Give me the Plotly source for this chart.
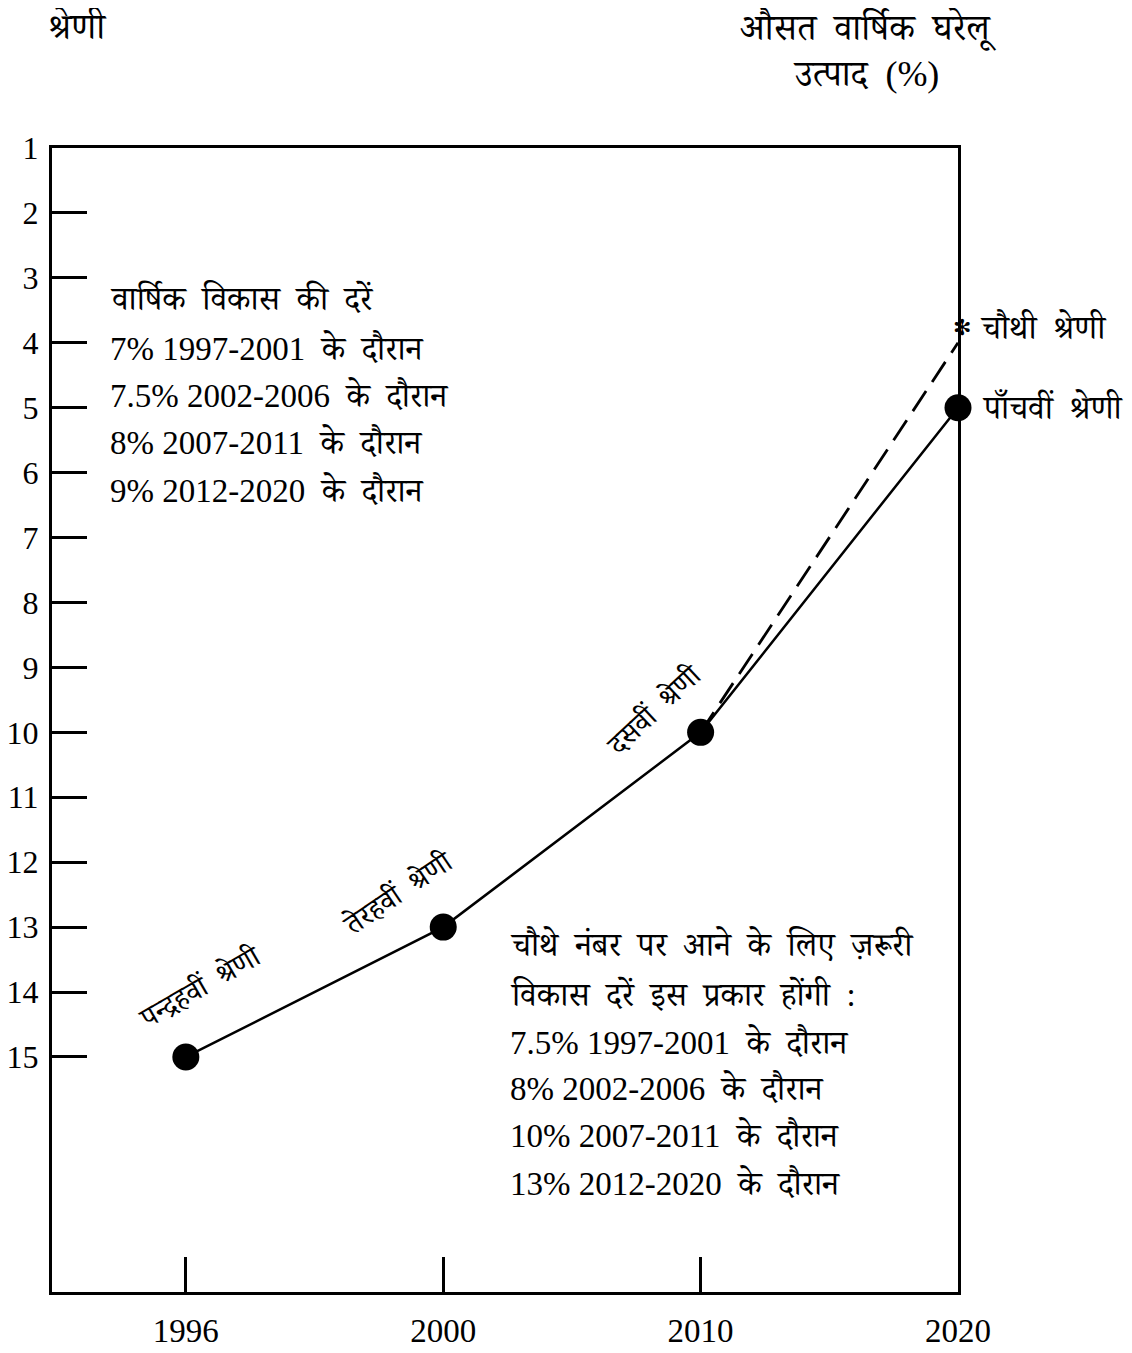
import plotly.graph_objects as go

# ---- data ----
years = ["1996", "2000", "2010", "2020"]
x_pos = [0, 1, 2, 3]
ranks_actual = [15, 13, 10, 5]
proj_x = [2, 3]
ranks_needed = [10, 4]
y_ticks = list(range(1, 16))

point_labels = ["पन्द्रहवीं  श्रेणी", "तेरहवीं  श्रेणी", "दसवीं  श्रेणी"]
left_lines = [
    "वार्षिक  विकास  की  दरें",
    "7% 1997-2001  के  दौरान",
    "7.5% 2002-2006  के  दौरान",
    "8% 2007-2011  के  दौरान",
    "9% 2012-2020  के  दौरान",
]
right_lines = [
    "चौथे  नंबर  पर  आने  के  लिए  ज़रूरी",
    "विकास  दरें  इस  प्रकार  होंगी  :",
    "7.5% 1997-2001  के  दौरान",
    "8% 2002-2006  के  दौरान",
    "10% 2007-2011  के  दौरान",
    "13% 2012-2020  के  दौरान",
]

OFF = 8  # page body margin
PW, PH = 1132, 1353  # window
W, H = PW - OFF, PH - OFF
L, R, T, B = 52, 958, 148, 1292  # plot frame in page pixels
FONT = "Liberation Serif, 'Times New Roman', 'Noto Serif Devanagari', 'Noto Sans Devanagari', serif"


def px(x):
    return (x - L) / (R - L)


def py(y):
    return (B - y) / (B - T)


fig = go.Figure()
fig.add_trace(go.Scatter(
    x=proj_x, y=ranks_needed, mode="lines",
    line=dict(color="black", width=2.8, dash="24px,11px"),
    cliponaxis=False, hoverinfo="skip", showlegend=False,
))
fig.add_trace(go.Scatter(
    x=x_pos, y=ranks_actual, mode="lines+markers",
    line=dict(color="black", width=2.5),
    marker=dict(color="black", size=27),
    cliponaxis=False, showlegend=False,
))

ann = []


def add(text, x, y, size=34, xanchor="center", angle=0):
    ann.append(dict(text=text, x=px(x), y=py(y), xref="paper", yref="paper",
                    showarrow=False, xanchor=xanchor, yanchor="middle",
                    textangle=angle, font=dict(family=FONT, size=size, color="black")))


add("श्रेणी", 77, 26, size=36)
add("औसत  वार्षिक  घरेलू", 868, 28, size=36)
add("उत्पाद  (%)", 866, 74, size=36)

for t, yy in zip(left_lines, [298, 348, 395, 442, 490]):
    add(t, 108, yy, size=33, xanchor="left")
for t, yy in zip(right_lines, [944, 994, 1042, 1088, 1135, 1183]):
    add(t, 508, yy, size=33, xanchor="left")

add(point_labels[0], 200, 987, size=29, angle=-30)
add(point_labels[1], 398, 893, size=29, angle=-34)
add(point_labels[2], 654, 710, size=29, angle=-43)

add("✻", 962, 328, size=22)
add("चौथी  श्रेणी", 978, 328, size=33, xanchor="left")
add("पाँचवीं  श्रेणी", 980, 407, size=33, xanchor="left")

fig.update_layout(
    width=W, height=H,
    margin=dict(l=L - OFF, r=W + OFF - R, t=T - OFF, b=H + OFF - B, autoexpand=False),
    paper_bgcolor="white", plot_bgcolor="white",
    annotations=ann,
    font=dict(family=FONT, color="black"),
)
fig.update_xaxes(
    range=[-0.52, 3.0], tickmode="array", tickvals=x_pos, ticktext=years,
    ticks="inside", ticklen=35, tickwidth=3, tickcolor="black",
    showline=True, linecolor="black", linewidth=3, mirror=True,
    showgrid=False, zeroline=False, automargin=False,
    tickfont=dict(family=FONT, size=33, color="black"), ticklabelstandoff=7,
)
fig.update_yaxes(
    range=[18.62, 1.0], tickmode="array", tickvals=y_ticks,
    ticks="inside", ticklen=35, tickwidth=2.5, tickcolor="black",
    showline=True, linecolor="black", linewidth=3, mirror=True,
    showgrid=False, zeroline=False, automargin=False,
    tickfont=dict(family=FONT, size=32, color="black"), ticklabelstandoff=4,
)

fig.write_html("out.html")
